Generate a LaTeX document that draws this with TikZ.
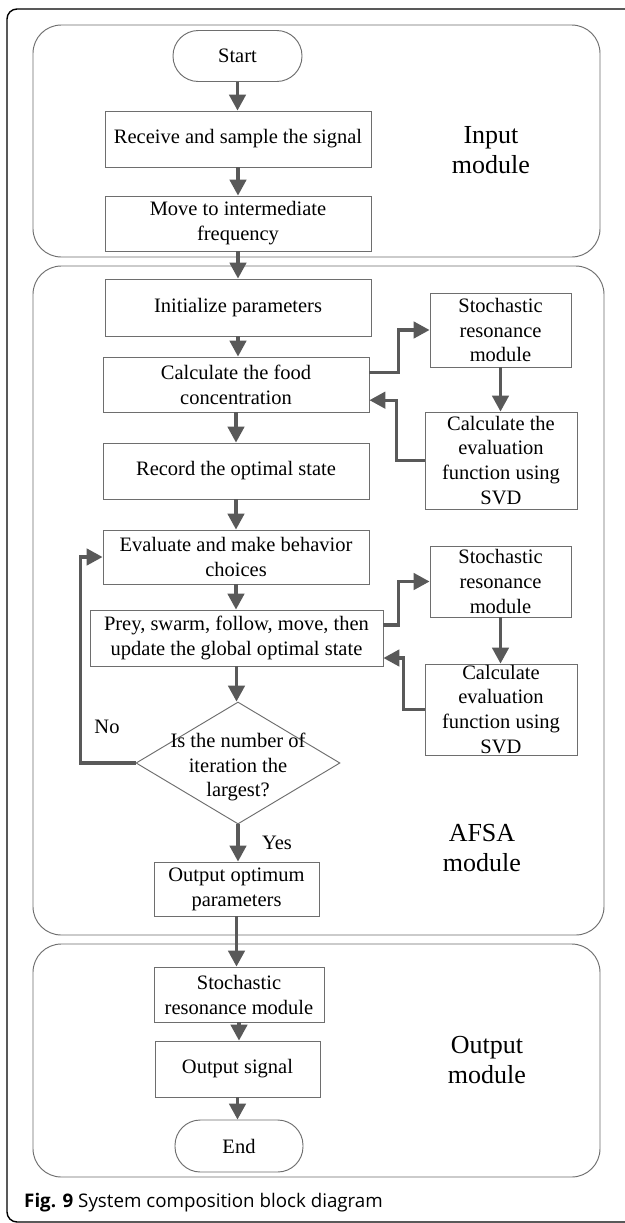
\documentclass[tikz,border=0pt]{standalone}
\usepackage{fontspec}
\setmainfont{Liberation Serif}
\newfontfamily\capfont{Open Sans}
\usetikzlibrary{shapes.geometric,arrows.meta}
\definecolor{boxgray}{HTML}{6E6E6E}
\definecolor{flowgray}{HTML}{595959}

\begin{document}
\begin{tikzpicture}[x=0.03cm,y=-0.03cm,
  every node/.style={font=\fontsize{17.5}{21.3}\selectfont,align=center,inner sep=0pt},
  blk/.style={draw=boxgray,line width=0.8pt},
  term/.style={draw=boxgray,line width=0.8pt,rounded corners=0.76cm,minimum width=3.87cm,minimum height=1.53cm},
  decbox/.style={diamond,draw=boxgray,line width=0.8pt,inner sep=0pt},
  modbox/.style={draw=boxgray,line width=0.8pt,rounded corners=0.85cm},
  modlbl/.style={font=\fontsize{22.2}{25.6}\selectfont},
  flow/.style={draw=flowgray,line width=2.6pt,-{Triangle[length=13.5pt,width=14pt]}}]
\useasboundingbox (0,0) rectangle (625,1223);
\clip (0,0) rectangle (625,1223);
\fill[white] (0,0) rectangle (625,1223);
\draw[line width=1.2pt,rounded corners=0.3cm] (7,9) rectangle (680,1222);

% module frames
\draw[modbox] (33,25) rectangle (600,257);
\draw[modbox] (33,266) rectangle (604,935);
\draw[modbox] (33,944) rectangle (600,1177);
\node[modlbl] (inlbl) at (491,150) {Input\\module};
\node[modlbl] (afsalbl) at (482,848) {AFSA\\module};
\node[modlbl] (outlbl) at (487,1060) {Output\\module};

% input module
\node[term] (start) at (237.5,56) {Start};
\node[blk,minimum width=7.98cm,minimum height=1.68cm] (recv) at (238,139) {Receive and sample the signal};
\node[blk,minimum width=7.98cm,minimum height=1.65cm] (move) at (238,223.5) {Move to intermediate\\frequency};

% AFSA module
\node[blk,minimum width=7.98cm,minimum height=1.71cm] (init) at (238,307.5) {Initialize parameters};
\node[blk,minimum width=7.98cm,minimum height=1.65cm] (food) at (236,384.5) {Calculate the food\\concentration};
\node[blk,minimum width=7.98cm,minimum height=1.68cm] (rec) at (236,471) {Record the optimal state};
\node[blk,minimum width=7.98cm,minimum height=1.62cm] (evl) at (236,557) {Evaluate and make behavior\\choices};
\node[blk,minimum width=8.79cm,minimum height=1.68cm] (prey) at (236.5,638) {Prey, swarm, follow, move, then\\update the global optimal state};
\node[decbox,minimum width=6.12cm,minimum height=3.66cm] (iter) at (238,763) {};
\node (itertxt) at (238,767) {Is the number of\\iteration the\\largest?};
\node[blk,minimum width=4.95cm,minimum height=1.62cm] (outp) at (236.5,889) {Output optimum\\parameters};
\node[blk,minimum width=4.23cm,minimum height=2.22cm] (sra) at (500.5,330) {Stochastic\\resonance\\module};
\node[blk,minimum width=4.56cm,minimum height=2.91cm] (svda) at (501,460.5) {Calculate the\\evaluation\\function using\\SVD};
\node[blk,minimum width=4.23cm,minimum height=2.13cm] (srb) at (500.5,581.5) {Stochastic\\resonance\\module};
\node[blk,minimum width=4.56cm,minimum height=2.73cm] (svdb) at (501,709.5) {Calculate\\evaluation\\function using\\SVD};
\node (no) at (107,727) {No};
\node (yes) at (277,843) {Yes};

% output module
\node[blk,minimum width=5.1cm,minimum height=1.65cm] (sro) at (239,994.5) {Stochastic\\resonance module};
\node[blk,minimum width=4.95cm,minimum height=1.68cm] (outs) at (237.5,1069) {Output signal};
\node[term,minimum width=3.84cm,minimum height=1.56cm] (endn) at (239,1146) {End};

% connectors
\draw[flow] (start.south) -- (start.south |- recv.north);
\draw[flow] (recv.south) -- (recv.south |- move.north);
\draw[flow] (move.south) -- (move.south |- init.north);
\draw[flow] (init.south) -- (init.south |- food.north);
\draw[flow] (food.south) -- (food.south |- rec.north);
\draw[flow] (rec.south) -- (rec.south |- evl.north);
\draw[flow] (evl.south) -- (evl.south |- prey.north);
\draw[flow] (prey.south) -- (prey.south |- iter.north);
\draw[flow] (iter.south) -- (iter.south |- outp.north);
\draw[flow] (outp.south) -- (outp.south |- sro.north);
\draw[flow] (sro.south) -- (sro.south |- outs.north);
\draw[flow] (outs.south) -- (outs.south |- endn.north);
\draw[flow] ([yshift=0.35cm]food.east) -- ++(29,0) |- (sra.west);
\draw[flow] (sra.south) -- (sra.south |- svda.north);
\draw[flow] (svda.west) -- ++(-28,0) |- ([yshift=-0.47cm]food.east);
\draw[flow] ([yshift=0.39cm]prey.east) -- ++(15,0) |- (srb.west);
\draw[flow] (srb.south) -- (srb.south |- svdb.north);
\draw[flow] (svdb.west) -- ++(-21,0) |- ([yshift=-0.6cm]prey.east);
\draw[flow] (iter.west) -- ++(-55,0) |- (evl.west);

\node[anchor=west,font=\capfont\fontsize{16}{19}\selectfont] (cap) at (24,1203) {\textbf{Fig. 9} System composition block diagram};
\end{tikzpicture}
\end{document}
